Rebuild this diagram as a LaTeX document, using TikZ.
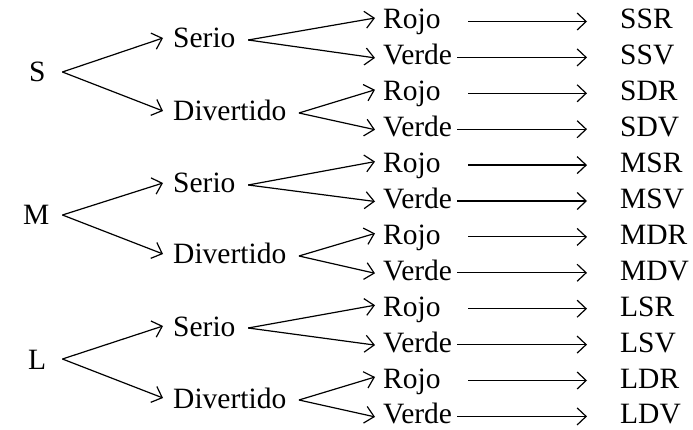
\documentclass[tikz,border=0pt]{standalone}
\usepackage{fontspec}
\setmainfont{Liberation Serif}
\usetikzlibrary{arrows.meta}
\begin{document}
\begin{tikzpicture}[x=1pt,y=-1pt,
  txt/.style={font=\fontsize{29.5}{34}\selectfont, inner sep=0pt, anchor=base west},
  arr/.style={line width=1.2pt, -{Straight Barb[length=9pt,width=17pt,line width=1.2pt]}}]
\useasboundingbox (0,0) rectangle (693,430);
% level 1
\node[txt] (S) at (29,82) {S};
\node[txt] (M) at (23,225) {M};
\node[txt] (L) at (28,369) {L};
% level 2
\node[txt] (SS) at (173,48) {Serio};
\node[txt] (SD) at (173,121) {Divertido};
\node[txt] (MS) at (173,193) {Serio};
\node[txt] (MD) at (173,264) {Divertido};
\node[txt] (LS) at (173,336) {Serio};
\node[txt] (LD) at (173,408) {Divertido};
% level 3
\node[txt] (SSR) at (383,29) {Rojo};
\node[txt] (SSV) at (383,64.9) {Verde};
\node[txt] (SDR) at (383,100.8) {Rojo};
\node[txt] (SDV) at (383,136.7) {Verde};
\node[txt] (MSR) at (383,172.6) {Rojo};
\node[txt] (MSV) at (383,208.5) {Verde};
\node[txt] (MDR) at (383,244.4) {Rojo};
\node[txt] (MDV) at (383,280.3) {Verde};
\node[txt] (LSR) at (383,316.2) {Rojo};
\node[txt] (LSV) at (383,352.1) {Verde};
\node[txt] (LDR) at (383,388) {Rojo};
\node[txt] (LDV) at (383,423.9) {Verde};
% results
\node[txt] (rSSR) at (620,29) {SSR};
\node[txt] (rSSV) at (620,64.9) {SSV};
\node[txt] (rSDR) at (620,100.8) {SDR};
\node[txt] (rSDV) at (620,136.7) {SDV};
\node[txt] (rMSR) at (620,172.6) {MSR};
\node[txt] (rMSV) at (620,208.5) {MSV};
\node[txt] (rMDR) at (620,244.4) {MDR};
\node[txt] (rMDV) at (620,280.3) {MDV};
\node[txt] (rLSR) at (620,316.2) {LSR};
\node[txt] (rLSV) at (620,352.1) {LSV};
\node[txt] (rLDR) at (620,388) {LDR};
\node[txt] (rLDV) at (620,423.9) {LDV};
% level 1 -> 2
\foreach \a/\dx in {S/16.6,M/12.8,L/16}{
  \draw[arr] ([xshift=\dx pt,yshift=10pt]\a.base east) -- ([xshift=-10pt,yshift=10pt]\a S.base west);
  \draw[arr] ([xshift=\dx pt,yshift=10pt]\a.base east) -- ([xshift=-10pt,yshift=10pt]\a D.base west);
}
% level 2 -> 3
\foreach \a in {SS,SD,MS,MD,LS,LD}{
  \draw[arr] ([xshift=12.5pt,yshift=8pt]\a.base east) -- ([xshift=-8pt,yshift=11pt]\a R.base west);
  \draw[arr] ([xshift=12.5pt,yshift=8pt]\a.base east) -- ([xshift=-8pt,yshift=7pt]\a V.base west);
}
% level 3 -> results
\foreach \a in {SSR,SDR,MSR,MDR,LSR,LDR}{
  \draw[arr] ([xshift=27.6pt,yshift=7.5pt]\a.base east) -- ([xshift=-33pt,yshift=7.5pt]r\a.base west);
}
\foreach \a in {SSV,SDV,MSV,MDV,LSV,LDV}{
  \draw[arr] ([xshift=5pt,yshift=7.5pt]\a.base east) -- ([xshift=-33pt,yshift=7.5pt]r\a.base west);
}
\end{tikzpicture}
\end{document}
